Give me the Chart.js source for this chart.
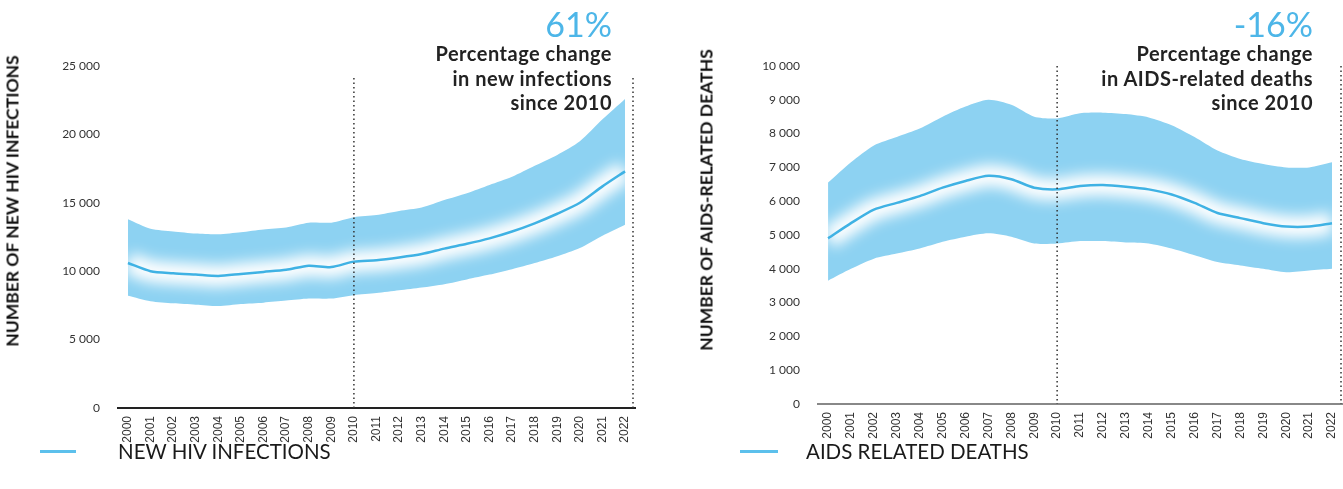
<!DOCTYPE html>
<html>
<head>
<meta charset="utf-8">
<script src="https://cdn.jsdelivr.net/npm/chart.js@4.4.0/dist/chart.umd.min.js"></script>
<style>
  body { margin: 0; background: #fff; font-family: Lato, sans-serif; }
  #wrap { position: relative; width: 1343px; height: 489px; overflow: hidden; }
  canvas { position: absolute; top: 0; }
  .pct { position: absolute; font-size: 34px; color: #4db6e8; line-height: 1; text-align: right; }
  .note { position: absolute; font-size: 20px; font-weight: 700; color: #222; line-height: 24.5px;
          letter-spacing: 0.5px; text-align: right; white-space: nowrap; }
  .ytitle { position: absolute; font-size: 17.5px; font-weight: 700; color: #111; white-space: nowrap;
            transform: translate(-50%, -50%) rotate(-90deg); }
  .legline { position: absolute; height: 3px; background: #5cc0ec; }
  .legtxt { position: absolute; font-size: 20.5px; color: #1a1a1a; line-height: 21px; white-space: nowrap; }
</style>
</head>
<body>
<div id="wrap">
  <canvas id="chartHiv" width="660" height="489" style="left:0"></canvas>
  <canvas id="chartDeaths" width="673" height="489" style="left:670px"></canvas>

  <div class="ytitle" style="left:12px; top:201px">NUMBER OF NEW HIV INFECTIONS</div>
  <div class="ytitle" style="left:706px; top:200px">NUMBER OF AIDS-RELATED DEATHS</div>

  <div class="pct" style="right:731px; top:7px">61%</div>
  <div class="note" style="right:731px; top:41px">Percentage change<br>in new infections<br>since 2010</div>
  <div class="pct" style="right:30px; top:7px">-16%</div>
  <div class="note" style="right:30px; top:41px">Percentage change<br>in AIDS-related deaths<br>since 2010</div>

  <div class="legline" style="left:40px; width:36px; top:450px"></div>
  <div class="legtxt" style="left:118px; top:441px">NEW HIV INFECTIONS</div>
  <div class="legline" style="left:740px; width:38px; top:450px"></div>
  <div class="legtxt" style="left:806px; top:441px">AIDS RELATED DEATHS</div>
</div>

<script>
// years on the x axis
const years = [2000, 2001, 2002, 2003, 2004, 2005, 2006, 2007, 2008, 2009, 2010,
  2011, 2012, 2013, 2014, 2015, 2016, 2017, 2018, 2019, 2020, 2021, 2022];
const refYear = 2010;

// new HIV infections (estimate + bounds)
const hivCentral = [10600, 10000, 9850, 9750, 9650, 9800, 9950, 10100, 10400, 10300, 10700,
  10800, 11000, 11250, 11650, 12000, 12400, 12900, 13500, 14200, 15000, 16200, 17300];
const hivUpper = [13800, 13100, 12900, 12750, 12700, 12850, 13050, 13200, 13550, 13550, 13950,
  14100, 14400, 14650, 15200, 15700, 16300, 16900, 17700, 18500, 19500, 21100, 22600];
const hivLower = [8200, 7800, 7650, 7550, 7450, 7600, 7700, 7850, 8000, 8000, 8250,
  8400, 8600, 8800, 9050, 9400, 9750, 10150, 10600, 11100, 11700, 12600, 13400];

// AIDS-related deaths (estimate + bounds)
const deathsCentral = [4900, 5350, 5750, 5950, 6150, 6400, 6600, 6750, 6650, 6400, 6350,
  6450, 6480, 6430, 6350, 6200, 5950, 5650, 5500, 5350, 5250, 5250, 5350];
const deathsUpper = [6550, 7150, 7650, 7900, 8150, 8500, 8800, 9000, 8850, 8500, 8450,
  8600, 8620, 8580, 8480, 8250, 7900, 7500, 7250, 7100, 7000, 7000, 7150];
const deathsLower = [3650, 4000, 4300, 4450, 4600, 4800, 4950, 5050, 4950, 4750, 4750,
  4820, 4820, 4780, 4750, 4600, 4400, 4200, 4100, 4000, 3900, 3950, 4000];

const pts = arr => arr.map((v, i) => ({ x: years[i], y: v }));
const fmt = v => String(v).replace(/\B(?=(\d{3})+(?!\d))/g, ' ');

// soft white glow around the central line, only painted on top of the band
const glowPlugin = {
  id: 'glow',
  beforeDatasetDraw(chart, args) {
    if (chart.data.datasets[args.index].glow) {
      const c = chart.ctx;
      c.save();
      c.filter = 'blur(7px)';
      c.globalCompositeOperation = 'source-atop';
    }
  },
  afterDatasetDraw(chart, args) {
    if (chart.data.datasets[args.index].glow) chart.ctx.restore();
  }
};

// dotted lines at 2010 and at the end of the axis
const refLines = {
  id: 'refLines',
  afterDatasetsDraw(chart, args, opts) {
    const { ctx, chartArea, scales } = chart;
    ctx.save();
    ctx.setLineDash([1.5, 3]);
    ctx.lineWidth = 1.5;
    ctx.strokeStyle = '#333';
    [scales.x.getPixelForValue(refYear), chartArea.right - 2].forEach(px => {
      ctx.beginPath();
      ctx.moveTo(px, opts.top);
      ctx.lineTo(px, chartArea.bottom);
      ctx.stroke();
    });
    ctx.restore();
  }
};

function makeChart(id, central, upper, lower, o) {
  return new Chart(document.getElementById(id), {
    type: 'line',
    data: {
      datasets: [
        { data: pts(central), borderColor: '#3fb2e4', borderWidth: 2.5, tension: 0.25, fill: false },
        { data: pts(central), borderColor: '#ffffff', borderWidth: 22, tension: 0.25, fill: false, glow: true },
        { data: pts(upper), borderColor: 'transparent', borderWidth: 0, backgroundColor: '#8dd2f2', fill: 3, tension: 0.25 },
        { data: pts(lower), borderColor: 'transparent', borderWidth: 0, fill: false, tension: 0.25 }
      ]
    },
    options: {
      responsive: false,
      animation: false,
      layout: { padding: { top: 66, right: o.padRight, left: o.padLeft, bottom: 0 } },
      elements: { point: { radius: 0 } },
      plugins: {
        legend: { display: false },
        tooltip: { enabled: false },
        refLines: { top: o.dotTop }
      },
      scales: {
        x: {
          type: 'linear', min: o.xMin, max: o.xMax,
          grid: { display: false, drawTicks: false },
          border: { display: true, color: o.axisColor, width: 2 },
          ticks: {
            stepSize: 1, includeBounds: false, autoSkip: false,
            minRotation: 90, maxRotation: 90, padding: 8,
            color: '#333', font: { family: 'Liberation Sans', size: 12 },
            callback: v => String(v)
          },
          afterFit: s => { s.height = o.xHeight; s.paddingLeft = 0; s.paddingRight = 0; }
        },
        y: {
          min: 0, max: o.yMax,
          grid: { display: false, drawTicks: false },
          border: { display: false },
          ticks: { stepSize: o.yStep, padding: 18, color: '#333', font: { family: 'Lato', size: 12 }, callback: fmt },
          afterFit: s => { s.width = o.yWidth; }
        }
      }
    },
    plugins: [glowPlugin, refLines]
  });
}

makeChart('chartHiv', hivCentral, hivUpper, hivLower, {
  padLeft: 0, padRight: 25, yWidth: 118, xHeight: 81,
  xMin: 1999.56, xMax: 2022.44, yMax: 25000, yStep: 5000, dotTop: 78, axisColor: '#222'
});

makeChart('chartDeaths', deathsCentral, deathsUpper, deathsLower, {
  padLeft: 24, padRight: 0, yWidth: 124, xHeight: 85,
  xMin: 1999.56, xMax: 2022.48, yMax: 10000, yStep: 1000, dotTop: 66, axisColor: '#888'
});
</script>
</body>
</html>
